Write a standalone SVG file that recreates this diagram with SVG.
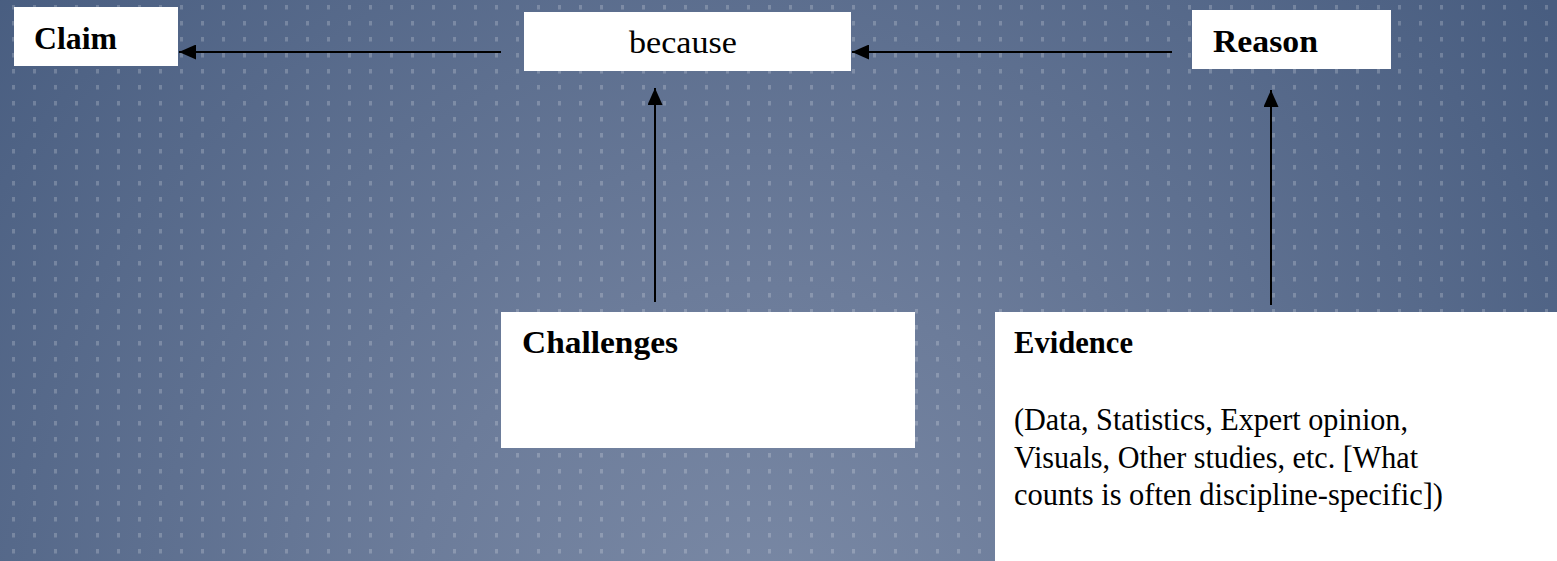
<svg xmlns="http://www.w3.org/2000/svg" width="1557" height="561" viewBox="0 0 1557 561">
  <defs>
    <radialGradient id="bg" gradientUnits="userSpaceOnUse" cx="760" cy="640" r="1010">
      <stop offset="0" stop-color="#7a89a5"/>
      <stop offset="0.35" stop-color="#6c7c9a"/>
      <stop offset="1" stop-color="#485d80"/>
    </radialGradient>
    <pattern id="dots" patternUnits="userSpaceOnUse" x="0" y="0" width="21" height="16">
      <rect x="12" y="5" width="3" height="4.5" fill="#ffffff" fill-opacity="0.2"/>
    </pattern>
    <marker id="ah" markerUnits="userSpaceOnUse" markerWidth="17" markerHeight="15" refX="17" refY="7.5" orient="auto">
      <path d="M0,0 L17,7.5 L0,15 Z" fill="#000"/>
    </marker>
    <style>
      .box { fill: #ffffff; }
      .t { font-family: "Liberation Serif", "Times New Roman", serif; fill: #000; }
      .b { font-weight: bold; font-size: 32px; }
      .r { font-size: 32px; }
      .conn { stroke: #000; stroke-width: 2; fill: none; marker-end: url(#ah); }
    </style>
  </defs>

  <rect x="0" y="0" width="1557" height="561" fill="url(#bg)"/>
  <rect x="0" y="0" width="1557" height="561" fill="url(#dots)"/>

  <g id="connectors">
    <path class="conn" d="M501,52 L179,52"/>
    <path class="conn" d="M1172,52 L852,52"/>
    <path class="conn" d="M655,302 L655,88"/>
    <path class="conn" d="M1271,305 L1271,90"/>
  </g>

  <g id="claim">
    <rect class="box" x="14" y="7" width="164" height="59"/>
    <text class="t b" x="34" y="49" textLength="83" lengthAdjust="spacingAndGlyphs">Claim</text>
  </g>

  <g id="because">
    <rect class="box" x="524" y="12" width="327" height="59"/>
    <text class="t r" x="629" y="53" textLength="108" lengthAdjust="spacingAndGlyphs">because</text>
  </g>

  <g id="reason">
    <rect class="box" x="1192" y="10" width="199" height="59"/>
    <text class="t b" x="1213" y="52" textLength="105" lengthAdjust="spacingAndGlyphs">Reason</text>
  </g>

  <g id="challenges">
    <rect class="box" x="501" y="312" width="414" height="136"/>
    <text class="t b" x="522" y="353" textLength="156" lengthAdjust="spacingAndGlyphs">Challenges</text>
  </g>

  <g id="evidence">
    <rect class="box" x="995" y="312" width="570" height="260"/>
    <text class="t b" x="1014" y="353" textLength="119" lengthAdjust="spacingAndGlyphs">Evidence</text>
    <text class="t r" x="1014" y="430" textLength="394" lengthAdjust="spacingAndGlyphs">(Data, Statistics, Expert opinion,</text>
    <text class="t r" x="1014" y="468" textLength="404" lengthAdjust="spacingAndGlyphs">Visuals, Other studies, etc. [What</text>
    <text class="t r" x="1014" y="505" textLength="429" lengthAdjust="spacingAndGlyphs">counts is often discipline-specific])</text>
  </g>
</svg>
